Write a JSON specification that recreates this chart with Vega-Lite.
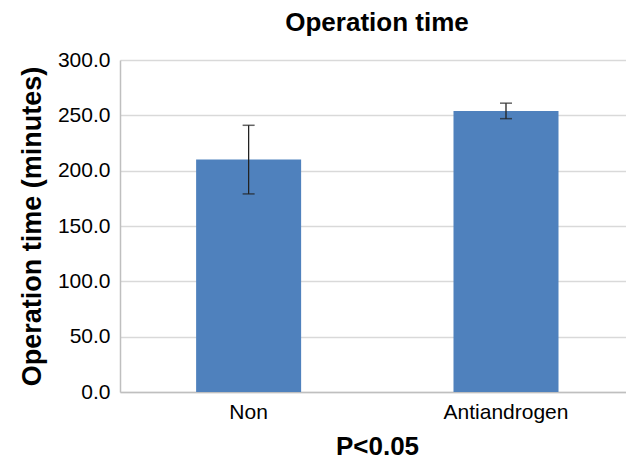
{
  "$schema": "https://vega.github.io/schema/vega-lite/v6.json",
  "autosize": {"type": "none"},
  "width": 506,
  "height": 332,
  "padding": {"left": 120, "top": 60, "right": 0, "bottom": 70},
  "background": "white",
  "config": {
    "font": "Liberation Sans",
    "view": {"stroke": null}
  },
  "title": {
    "text": "Operation time",
    "fontSize": 26,
    "fontWeight": "bold",
    "color": "#000000",
    "anchor": "middle",
    "offset": 13,
    "dx": 4
  },
  "data": {
    "values": [
      {"group": "Non", "mean": 210, "lower": 179, "upper": 241},
      {"group": "Antiandrogen", "mean": 254, "lower": 247, "upper": 261}
    ]
  },
  "encoding": {
    "x": {
      "field": "group",
      "type": "nominal",
      "sort": ["Non", "Antiandrogen"],
      "scale": {"paddingInner": 0.592, "paddingOuter": 0.279, "align": 0.53},
      "axis": {
        "title": "P<0.05",
        "titleFontSize": 26,
        "titleFontWeight": "bold",
        "titleColor": "#000000",
        "titlePadding": 11,
        "titleX": 257,
        "labelAngle": 0,
        "labelFontSize": 21,
        "labelColor": "#000000",
        "labelPadding": 9,
        "ticks": false,
        "domainColor": "#bfbfbf",
        "domainWidth": 1.5
      }
    }
  },
  "layer": [
    {
      "mark": {"type": "bar", "color": "#4F81BD"},
      "encoding": {
        "y": {
          "field": "mean",
          "type": "quantitative",
          "scale": {"domain": [0, 300]},
          "axis": {
            "title": "Operation time (minutes)",
            "titleFontSize": 27,
            "titleFontWeight": "bold",
            "titleColor": "#000000",
            "titlePadding": 11,
            "values": [0, 50, 100, 150, 200, 250, 300],
            "format": ".1f",
            "labelFontSize": 21,
            "labelColor": "#000000",
            "labelPadding": 10,
            "ticks": false,
            "grid": true,
            "gridColor": "#d9d9d9",
            "gridWidth": 1.5,
            "domainColor": "#bfbfbf",
            "domainWidth": 1.5
          }
        }
      }
    },
    {
      "mark": {"type": "rule", "color": "#222222", "strokeWidth": 1.3},
      "encoding": {
        "y": {"field": "lower", "type": "quantitative"},
        "y2": {"field": "upper"}
      }
    },
    {
      "mark": {"type": "tick", "color": "#222222", "thickness": 1.5, "size": 12, "orient": "horizontal"},
      "encoding": {
        "y": {"field": "lower", "type": "quantitative"}
      }
    },
    {
      "mark": {"type": "tick", "color": "#222222", "thickness": 1.5, "size": 12, "orient": "horizontal"},
      "encoding": {
        "y": {"field": "upper", "type": "quantitative"}
      }
    }
  ]
}
